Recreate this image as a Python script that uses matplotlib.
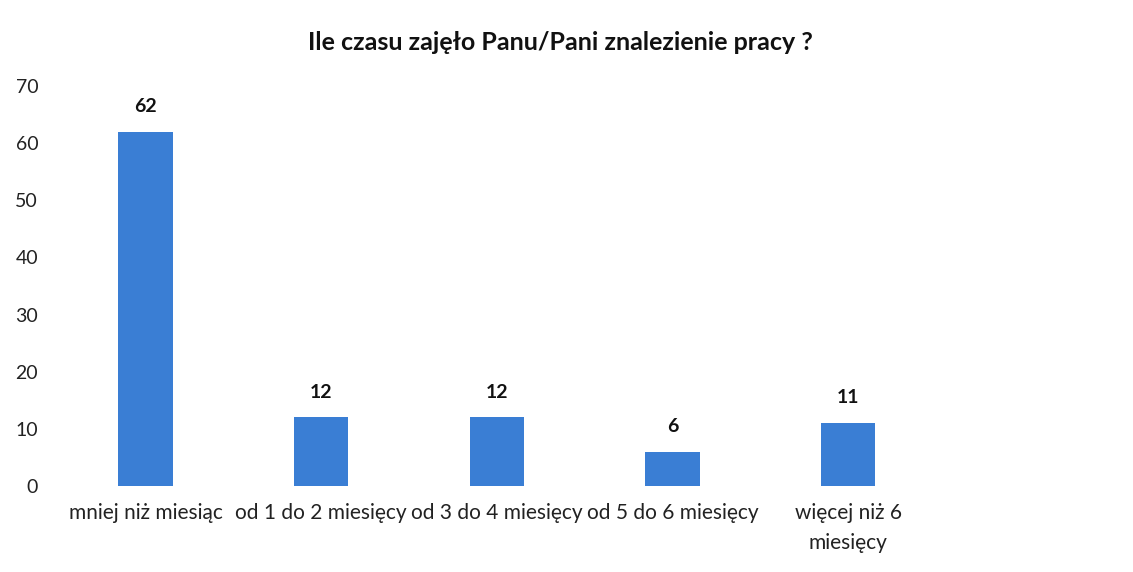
import matplotlib
matplotlib.use("Agg")
import matplotlib.pyplot as plt
import numpy as np

categories = ["mniej niż miesiąc", "od 1 do 2 miesięcy", "od 3 do 4 miesięcy",
              "od 5 do 6 miesięcy", "więcej niż 6\nmiesięcy"]
values = [62, 12, 12, 6, 11]
yticks = [0, 10, 20, 30, 40, 50, 60, 70]
title = "Ile czasu zajęło Panu/Pani znalezienie pracy ?"


def main():
    plt.rcParams['font.family'] = ['Lato', 'DejaVu Sans']
    fig = plt.figure(figsize=(11.33, 5.72), dpi=100)
    W, H = 1133, 572
    ax = fig.add_axes([57.6 / W, 86 / H, (936 - 57.6) / W, 400 / H])

    x = np.arange(len(categories))
    bars = ax.bar(x, values, width=0.31, color='#3A7ED4')

    for b, v in zip(bars, values):
        ax.annotate(str(v), (b.get_x() + b.get_width() / 2, v),
                    xytext=(0, 12), textcoords='offset points',
                    ha='center', va='bottom', fontsize=14, fontweight='bold',
                    color='#111111')

    ax.set_xlim(-0.5, len(categories) - 0.5)
    ax.set_ylim(0, 70)
    ax.set_yticks(yticks)
    ax.set_xticks(x)
    ax.set_xticklabels(categories, linespacing=1.65)
    ax.tick_params(axis='y', length=0, pad=14, labelsize=14, labelcolor='#222222')
    ax.tick_params(axis='x', length=0, pad=12, labelsize=15, labelcolor='#222222')
    for s in ax.spines.values():
        s.set_visible(False)

    fig.text(560 / W, 1 - 42 / H, title, ha='center', va='center',
             fontsize=18, fontweight='bold', color='#111111')

    fig.savefig("out.png", dpi=100)


if __name__ == "__main__":
    main()
